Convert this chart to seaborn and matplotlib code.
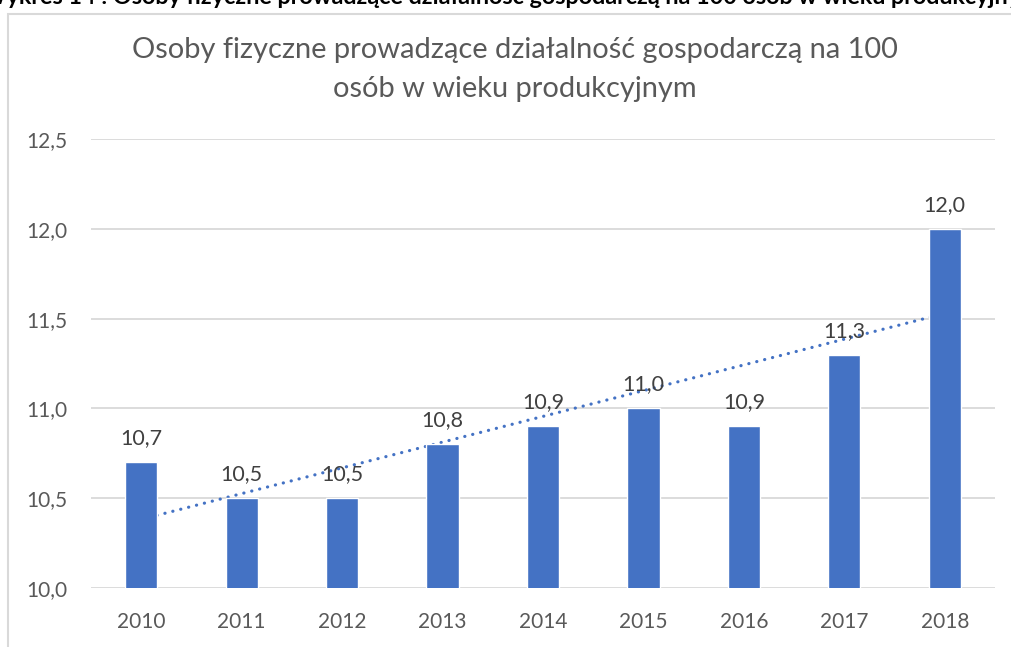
import numpy as np
import pandas as pd
import matplotlib
matplotlib.use("Agg")
import matplotlib.pyplot as plt
from matplotlib.patches import Rectangle
import seaborn as sns

years = ["2010", "2011", "2012", "2013", "2014", "2015", "2016", "2017", "2018"]
values = [10.7, 10.5, 10.5, 10.8, 10.9, 11.0, 10.9, 11.3, 12.0]
yticks = [10.0, 10.5, 11.0, 11.5, 12.0, 12.5]
title_lines = ["Osoby fizyczne prowadzące działalność gospodarczą na 100", "osób w wieku produkcyjnym"]
caption_prefix = "Wykres 14 : "
caption_body = "Osoby fizyczne prowadzące działalność gospodarczą na 100 osób w wieku produkcyjnym"

sns.set_theme(style="white")
plt.rcParams["font.family"] = ["Lato", "DejaVu Sans"]

BLUE = "#4472c4"
GRAY = "#595959"
GRID = "#d9d9d9"
W, H = 1011, 647

fig = plt.figure(figsize=(W/100, H/100), dpi=100)
ax = fig.add_axes([91/W, 1-588/H, (995-91)/W, (588-139)/H])

df = pd.DataFrame({"year": years, "value": values})
sns.barplot(data=df, x="year", y="value", color=BLUE, saturation=1, width=0.32, ax=ax, zorder=3)

# linear trendline
xs = np.arange(len(values))
k, b = np.polyfit(xs, values, 1)
ax.plot(xs, k*xs + b, color=BLUE, lw=2.3, linestyle=(0, (0.05, 2.5)),
        dash_capstyle="round", zorder=2)

for i, v in enumerate(values):
    ax.annotate(f"{v:.1f}".replace(".", ","), (i, v), xytext=(0, 10), textcoords="offset points",
                ha="center", va="bottom", fontsize=15.5, color="#404040", zorder=5)

ax.set_ylim(10.0, 12.5)
ax.set_xlim(-0.5, len(years) - 0.5)
ax.set_yticks(yticks)
ax.set_yticklabels([f"{t:.1f}".replace(".", ",") for t in yticks])
ax.yaxis.grid(True, color=GRID, lw=1.3, zorder=0)
ax.set_axisbelow(True)
for s in ax.spines.values():
    s.set_visible(False)
ax.tick_params(axis="y", length=0, pad=17, labelsize=15, labelcolor=GRAY)
ax.tick_params(axis="x", length=0, pad=17, labelsize=15, labelcolor=GRAY)
ax.set_xlabel("")
ax.set_ylabel("")

fig.canvas.draw()
rend = fig.canvas.get_renderer()

def fit_size(txt, target_px, **kw):
    t = fig.text(0, 0, txt, fontsize=10, **kw)
    w = t.get_window_extent(rend).width
    t.remove()
    return 10 * target_px / w

# title, two centred lines
tsize = fit_size(title_lines[0], 765)
fig.text(515/W, 1-58/H, title_lines[0], ha="center", va="baseline", fontsize=tsize, color=GRAY)
fig.text(515/W, 1-97/H, title_lines[1], ha="center", va="baseline", fontsize=tsize, color=GRAY)

# chart frame
fig.patches.append(Rectangle((8/W, -0.1), 1.2, 1-14/H+0.1, transform=fig.transFigure,
                             fill=False, edgecolor=GRID, lw=1.5))

# clipped caption at the top
csize = fit_size(caption_body[:-2], 1011-113, fontweight="bold")
pre = fig.text(0, 0, caption_prefix, fontsize=csize, fontweight="bold")
pw = pre.get_window_extent(rend).width
pre.remove()
fig.text((113 - pw)/W, 1-3.5/H, caption_prefix + caption_body, ha="left", va="baseline",
         fontsize=csize, fontweight="bold", color="black")

fig.savefig("out.png", dpi=100)
